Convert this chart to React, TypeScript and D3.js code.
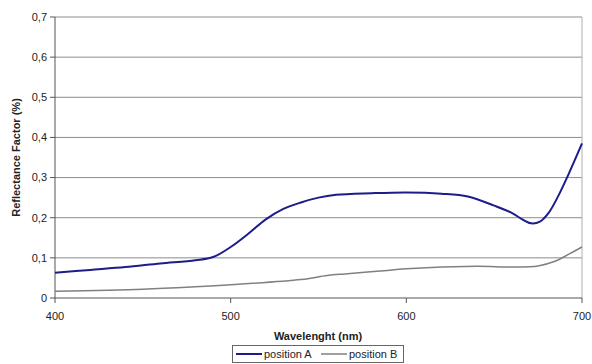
import React from "react";
import * as d3 from "d3";

const wavelengthsA = [400, 420, 440, 460, 480, 490, 500, 510, 520, 530, 540, 550, 560, 580, 600, 620, 635, 650, 660, 666, 671, 676, 681, 686, 692, 700];
const positionA = [0.063, 0.07, 0.077, 0.086, 0.094, 0.102, 0.127, 0.16, 0.196, 0.222, 0.238, 0.25, 0.257, 0.261, 0.263, 0.26, 0.253, 0.23, 0.212, 0.196, 0.186, 0.19, 0.212, 0.25, 0.305, 0.385];
const wavelengthsB = [400, 450, 480, 500, 540, 555, 565, 585, 600, 640, 660, 675, 685, 692, 700];
const positionB = [0.017, 0.022, 0.028, 0.033, 0.046, 0.056, 0.06, 0.067, 0.073, 0.079, 0.077, 0.08, 0.092, 0.108, 0.127];
const xTicks = [400, 500, 600, 700];
const yTicks = [0, 0.1, 0.2, 0.3, 0.4, 0.5, 0.6, 0.7];
const seriesNames = ["position A", "position B"];
const seriesColors = ["#1c1c8a", "#808080"];

export default function App() {
  const W = 592, H = 364;
  const left = 55, right = 582, top = 17, bottom = 298;
  const x = d3.scaleLinear().domain([400, 700]).range([left, right]);
  const y = d3.scaleLinear().domain([0, 0.7]).range([bottom, top]);
  const line = d3.line<[number, number]>().x(d => x(d[0])).y(d => y(d[1])).curve(d3.curveCatmullRom.alpha(0.5));
  const dA = line(wavelengthsA.map((w, i) => [w, positionA[i]] as [number, number])) || "";
  const dB = line(wavelengthsB.map((w, i) => [w, positionB[i]] as [number, number])) || "";
  const font = "Arial, 'Liberation Sans', sans-serif";
  const fmt = (v: number) => (v === 0 ? "0" : v.toFixed(1).replace(".", ","));
  return (
    <svg width={W} height={H} style={{ position: "absolute", left: 0, top: 0 }} fontFamily={font}>
      <rect x={0} y={0} width={W} height={H} fill="#fff" />
      {yTicks.map(t => (
        <g key={t}>
          {t > 0 && <line x1={left} x2={right} y1={y(t)} y2={y(t)} stroke="#8c8c8c" strokeWidth={1} />}
          <line x1={left - 5} x2={left} y1={y(t)} y2={y(t)} stroke="#555" />
          <text x={left - 8} y={y(t)} dy="0.35em" textAnchor="end" fontSize={11} fill="#222">{fmt(t)}</text>
        </g>
      ))}
      <line x1={right} x2={right} y1={top} y2={bottom} stroke="#b0b0b0" />
      <line x1={left} x2={left} y1={top} y2={bottom} stroke="#555" />
      <line x1={left} x2={right} y1={bottom} y2={bottom} stroke="#555" />
      {xTicks.map(t => (
        <g key={t}>
          <line x1={x(t)} x2={x(t)} y1={bottom} y2={bottom + 5} stroke="#555" />
          <text x={x(t)} y={316} dy="0.35em" textAnchor="middle" fontSize={11} fill="#222">{t}</text>
        </g>
      ))}
      <path d={dB} fill="none" stroke={seriesColors[1]} strokeWidth={1.5} />
      <path d={dA} fill="none" stroke={seriesColors[0]} strokeWidth={2} />
      <text x={318} y={336} dy="0.35em" textAnchor="middle" fontSize={11} fontWeight="bold" fill="#222">Wavelenght (nm)</text>
      <text transform={`translate(16,${(top + bottom) / 2}) rotate(-90)`} textAnchor="middle" dy="0.35em" fontSize={11} fontWeight="bold" fill="#222">Reflectance Factor (%)</text>
      <rect x={232.5} y={345.5} width={171} height={17} fill="#fff" stroke="#666" />
      <line x1={236} x2={262} y1={354} y2={354} stroke={seriesColors[0]} strokeWidth={2} />
      <text x={264} y={354} dy="0.35em" fontSize={11} fill="#222">{seriesNames[0]}</text>
      <line x1={321} x2={347} y1={354} y2={354} stroke={seriesColors[1]} strokeWidth={1.5} />
      <text x={349} y={354} dy="0.35em" fontSize={11} fill="#222">{seriesNames[1]}</text>
    </svg>
  );
}
